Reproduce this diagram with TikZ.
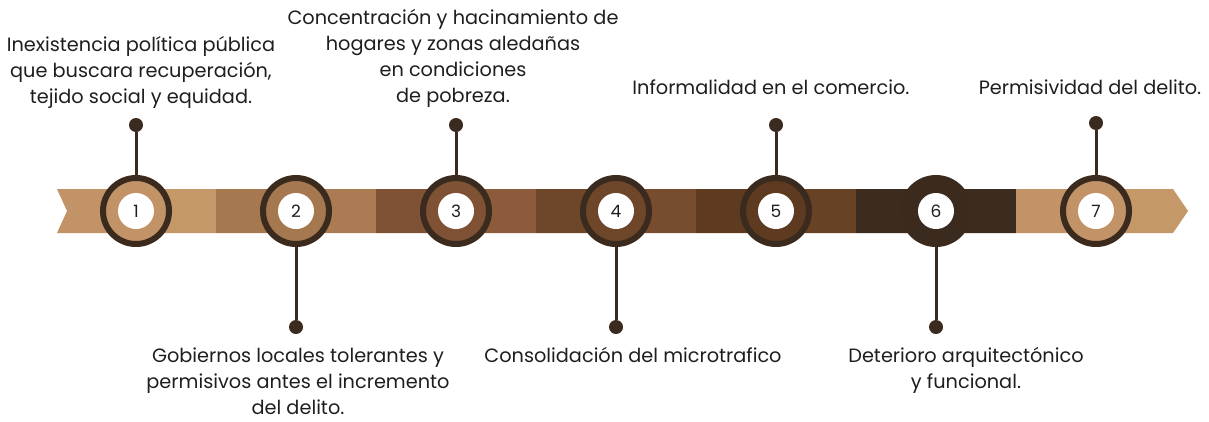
\documentclass[tikz,border=0pt]{standalone}
\usepackage{fontspec}
\setmainfont{Poppins}
\usetikzlibrary{positioning}

\definecolor{ring}{HTML}{3B2A1E}
\definecolor{txt}{HTML}{1E1E1E}
\definecolor{sega}{HTML}{C29366}
\definecolor{segaa}{HTML}{C59869}
\definecolor{segb}{HTML}{A67850}
\definecolor{segbb}{HTML}{AB7C53}
\definecolor{segc}{HTML}{7F5235}
\definecolor{segcc}{HTML}{8C5B3B}
\definecolor{segd}{HTML}{6E472A}
\definecolor{segdd}{HTML}{784D2F}
\definecolor{sege}{HTML}{5D3A20}
\definecolor{segee}{HTML}{684225}
\definecolor{segf}{HTML}{3C2B1F}

\tikzset{
  stage/.style={circle, draw=ring, line width=6pt, minimum size=66pt, inner sep=0pt},
  hole/.style={circle, fill=white, minimum size=36pt, inner sep=0pt, text=txt,
    font=\fontsize{17}{17}\selectfont},
  knob/.style={circle, fill=ring, minimum size=14pt, inner sep=0pt},
  stemline/.style={draw=ring, line width=3pt},
  caption/.style={align=center, inner sep=0pt, text=txt,
    font=\fontsize{19.3}{25.8}\selectfont}
}

\begin{document}
\begin{tikzpicture}[x=1pt, y=-1pt]
  \useasboundingbox (0,0) rectangle (1209,421);

  % banda
  \begin{scope}
    \clip (57,189) -- (1173,189) -- (1188,211) -- (1173,233) -- (57,233) -- (67,211) -- cycle;
    \fill[sega] (50,180) rectangle (136,240);
    \fill[segaa] (136,180) rectangle (216,240);
    \fill[segb] (216,180) rectangle (296,240);
    \fill[segbb] (296,180) rectangle (376,240);
    \fill[segc] (376,180) rectangle (456,240);
    \fill[segcc] (456,180) rectangle (536,240);
    \fill[segd] (536,180) rectangle (616,240);
    \fill[segdd] (616,180) rectangle (696,240);
    \fill[sege] (696,180) rectangle (776,240);
    \fill[segee] (776,180) rectangle (856,240);
    \fill[segf] (856,180) rectangle (1016,240);
    \fill[sega] (1016,180) rectangle (1096,240);
    \fill[segaa] (1096,180) rectangle (1195,240);
  \end{scope}

  % etapas
  \node[stage, fill=sega] (c1) at (136,211) {};
  \node[stage, fill=segb] (c2) at (296,211) {};
  \node[stage, fill=segc] (c3) at (456,211) {};
  \node[stage, fill=segd] (c4) at (616,211) {};
  \node[stage, fill=sege] (c5) at (776,211) {};
  \node[stage, fill=ring] (c6) at (936,211) {};
  \node[stage, fill=sega] (c7) at (1096,211) {};
  \node[hole] (n1) at (c1) {1};
  \node[hole] (n2) at (c2) {2};
  \node[hole] (n3) at (c3) {3};
  \node[hole] (n4) at (c4) {4};
  \node[hole] (n5) at (c5) {5};
  \node[hole] (n6) at (c6) {6};
  \node[hole] (n7) at (c7) {7};

  % marcadores
  \node[knob] (d1) at (136,125) {};
  \node[knob] (d2) at (296,327) {};
  \node[knob] (d3) at (456,125) {};
  \node[knob] (d4) at (616,327) {};
  \node[knob] (d5) at (776,125) {};
  \node[knob] (d6) at (936,327) {};
  \node[knob] (d7) at (1096,123) {};
  \draw[stemline] (c1) -- (d1);
  \draw[stemline] (c2) -- (d2);
  \draw[stemline] (c3) -- (d3);
  \draw[stemline] (c4) -- (d4);
  \draw[stemline] (c5) -- (d5);
  \draw[stemline] (c6) -- (d6);
  \draw[stemline] (c7) -- (d7);

  % textos (base = ultima linea)
  \node[caption, anchor=base] (t1) at (141,103) {Inexistencia política pública\\que buscara recuperación,\\tejido social y equidad.};
  \node[caption, anchor=base] (t3) at (453,102) {Concentración y hacinamiento de\\hogares y zonas aledañas\\en condiciones\\de pobreza.};
  \node[caption, anchor=base] (t5) at (771,94) {Informalidad en el comercio.};
  \node[caption, anchor=base] (t7) at (1090,94) {Permisividad del delito.};
  \node[caption, anchor=base] (t2) at (298,414) {Gobiernos locales tolerantes y\\permisivos antes el incremento\\del delito.};
  \node[caption, anchor=base] (t4) at (633,362) {Consolidación del microtrafico};
  \node[caption, anchor=base] (t6) at (966,388) {Deterioro arquitectónico\\y funcional.};
\end{tikzpicture}
\end{document}
